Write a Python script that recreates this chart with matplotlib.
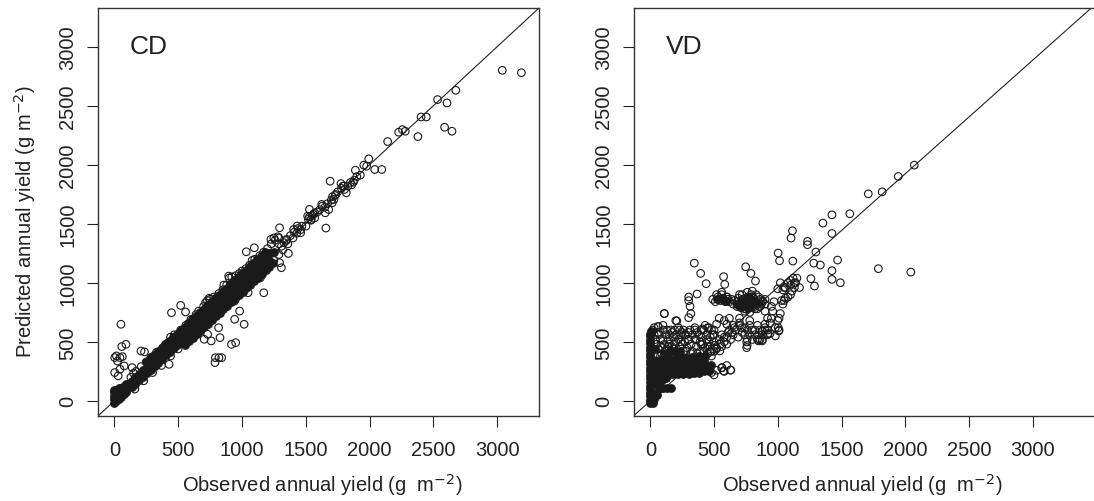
import matplotlib
matplotlib.use("Agg")
import matplotlib.pyplot as plt

plt.rcParams['font.family'] = ['Liberation Sans', 'DejaVu Sans']

# ---- CD panel: observed vs predicted (g m-2) ----
# dense black band, drawn as filled circles
cd_core_obs = [-5, -5, -5, -5, -5, 15, 15, 15, 15, 35, 35, 35, 35, 55, 55, 55, 75, 75, 75, 95, 95, 95,
               105, 135, 135, 165, 165, 195, 195, 225, 225, 255, 255, 285, 285, 315, 315, 345, 345, 375,
               375, 405, 405, 435, 435, 465, 465, 495, 495, 525, 525, 555, 555, 585, 585, 615, 615, 645,
               645, 675, 675, 705, 705, 735, 735, 765, 765, 795, 795, 825, 825, 855, 855, 885, 885, 915,
               915, 945, 945, 975, 975, 1005, 1005, 1035, 1035, 1065, 1065, 1095, 1095, 1125, 1125, 1155,
               1155, 1185, 1185, 1215, 1215, 1250,
               250, 280, 310, 340, 370, 400, 430, 460, 490, 520, 550, 580, 610, 640, 670, 700, 730, 760,
               790, 820, 850, 880, 910, 940, 970, 1000, 1030, 1060, 1090, 1120, 1150, 1180,
               555, 585, 615, 645, 675, 705, 735, 765, 795, 825, 855, 885, 915, 945, 975, 1005, 1035, 1065,
               1095, 1125, 1155, 1185, 1215, 1245]
cd_core_pred = [-15, 15, 45, 75, 95, -5, 30, 60, 90, 15, 50, 85, 110, 35, 70, 105, 55, 90, 125, 75, 110, 140,
                140, 115, 170, 145, 200, 175, 230, 205, 260, 235, 290, 265, 320, 295, 350, 325, 380, 355,
                410, 385, 440, 415, 470, 445, 500, 475, 530, 505, 560, 535, 590, 565, 620, 595, 650, 625,
                680, 655, 710, 685, 740, 715, 770, 745, 800, 775, 830, 805, 860, 835, 890, 865, 920, 895,
                950, 925, 980, 955, 1010, 985, 1040, 1015, 1070, 1045, 1100, 1075, 1130, 1105, 1160, 1135,
                1190, 1165, 1220, 1195, 1250, 1265,
                330, 360, 390, 420, 450, 480, 510, 540, 570, 600, 630, 660, 690, 720, 750, 780, 810, 840,
                870, 900, 930, 960, 990, 1020, 1050, 1080, 1110, 1140, 1170, 1200, 1230, 1260,
                475, 505, 535, 565, 595, 625, 655, 685, 715, 745, 775, 805, 835, 865, 895, 925, 955, 985,
                1015, 1045, 1075, 1105, 1135, 1165]

# open circles: band fringe, upper tail and outliers
cd_obs = [130, 170, 210, 250, 290, 330, 380, 420, 440, 470, 520, 560, 600, 640, 660, 700, 730, 750, 780,
          820, 850, 880, 900, 920, 950, 980, 1000, 1030, 1060, 1080, 1100, 1140, 1170, 1200, 1230, 1260,
          1290, 1250, 1280,
          160, 230, 300, 370, 440, 500, 560, 620, 680, 740, 790, 850, 900, 960, 1010, 1060, 1110, 1160,
          1200, 1250, 1290, 1320, 1080, 980, 870, 760,
          1290, 1310, 1330, 1350, 1360, 1380, 1400, 1410, 1430, 1440, 1460, 1470, 1520, 1530, 1540, 1550,
          1560, 1570, 1590, 1610, 1630, 1650, 1670, 1700, 1710, 1730, 1750, 1780, 1800, 1830, 1850, 1860,
          1880, 1900,
          3040, 3190, 2676, 2533, 2607, 2404, 2445, 2588, 2646, 2379, 2228, 2258, 2280, 2142, 1994, 1955,
          1977, 1889, 1928, 2041, 2096, 1691, 1776, 1790, 1818, 1804, 1873, 1735, 1721, 1708, 1625, 1653,
          1680, 1658, 1515, 1529, 1543, 1570, 1502, 1433, 1405, 1460, 1295, 1350, 1227, 1097, 1034, 1364,
          1295, 1309, 1171, 1144, 1048, 896, 858, 943, 982, 943, 1017, 715, 743, 520, 558, 448, 817, 828,
          759, 918, 951, 792, 820, 841, 789, 731, 704, 52, 58, 91, 16, 44, 63, 25, 3, 77, 209, 236, 429,
          3, 44, 30, 140, 151]
cd_pred = [200, 250, 290, 330, 370, 410, 450, 490, 540, 560, 600, 640, 690, 730, 760, 800, 850, 860, 880,
           910, 940, 980, 1040, 1050, 1060, 1080, 1100, 1120, 1150, 1190, 1200, 1230, 1260, 1290, 1330,
           1360, 1380, 1380, 1390,
           100, 170, 240, 300, 380, 440, 490, 560, 610, 680, 730, 780, 840, 890, 940, 990, 1040, 1090,
           1130, 1190, 1240, 1280, 1020, 900, 800, 700,
           1330, 1310, 1340, 1360, 1330, 1400, 1380, 1430, 1420, 1460, 1450, 1480, 1540, 1560, 1530, 1570,
           1580, 1550, 1600, 1620, 1650, 1640, 1670, 1700, 1730, 1740, 1770, 1800, 1820, 1820, 1850, 1830,
           1870, 1900,
           2800, 2780, 2631, 2552, 2524, 2405, 2405, 2318, 2284, 2239, 2276, 2298, 2284, 2197, 2050, 1997,
           1988, 1954, 1912, 1960, 1960, 1861, 1841, 1819, 1763, 1791, 1853, 1748, 1706, 1678, 1664, 1593,
           1621, 1464, 1565, 1622, 1537, 1593, 1481, 1481, 1452, 1424, 1466, 1368, 1368, 1297, 1263, 1249,
           1170, 1128, 916, 1043, 916, 1057, 981, 846, 761, 691, 649, 832, 869, 809, 753, 747, 620, 536,
           508, 479, 493, 366, 366, 366, 324, 564, 522, 649, 460, 479, 381, 367, 375, 338, 367, 296, 423,
           415, 310, 240, 268, 212, 282, 234]

# ---- VD panel ----
vd_core_obs = [0, 0, 0, 0, 0, 0, 0, 0, 0, 0, 0, 0, 0, 0, 0, 0, 0, 0, 0, 0, 0, 5, 10, 10, 10,
               20, 30, 50, 40, 70, 100, 130, 160, 60, 30, 20,
               60, 100, 140, 180, 220, 260, 300, 340, 380, 420, 460,
               50, 90, 130, 170, 210, 250, 290, 330, 370, 410, 450, 480,
               60, 100, 140, 180, 220, 260, 300, 340, 380, 420,
               80, 120, 160, 200, 240, 280, 330, 380, 430,
               110, 150, 190, 230, 40, 40, 40,
               60, 90, 120, 60,
               720, 750, 780, 760, 740, 700, 800, 680, 730, 770, 790, 820, 840, 760, 710,
               520, 560, 590]
vd_core_pred = [-20, 10, 40, 70, 100, 130, 160, 190, 220, 250, 280, 310, 340, 370, 400, 430, 460, 490,
                520, 550, 570, 590, 150, 300, 450,
                -20, 20, 50, 40, 100, 105, 105, 105, 130, 60, 30,
                220, 215, 220, 225, 230, 225, 230, 235, 240, 250, 250,
                260, 265, 260, 265, 270, 270, 275, 280, 280, 285, 290, 300,
                305, 305, 310, 310, 315, 320, 320, 325, 330, 340,
                350, 355, 350, 360, 355, 360, 370, 380, 380,
                400, 410, 420, 410, 200, 340, 440,
                170, 180, 190, 200,
                820, 830, 810, 850, 800, 840, 840, 820, 850, 790, 860, 830, 820, 880, 800,
                860, 870, 850]

vd_obs = [2071, 1945, 1819, 1710, 1565, 1425, 1354, 1425, 1115, 1104, 1233, 1233, 1299, 1118, 1469, 1282,
          1334, 1003, 1014, 1789, 2044, 1425, 1425, 1491, 1260, 1288, 345, 395, 438, 367, 301, 301, 312,
          318, 301, 110, 208, 63, 575, 584, 748, 789, 825, 1003, 1008, 981, 756, 756, 849, 877, 923, 630,
          562, 575,
          650, 680, 700, 720, 740, 760, 780, 800, 820, 840, 860, 880, 690, 710, 730, 750, 770, 790, 810,
          830, 850, 870, 700, 740, 780, 820, 860, 760, 720, 800, 660, 900,
          490, 510, 530, 550, 570, 590, 610, 520, 560, 600,
          400, 450, 500, 520, 540, 580, 600, 620, 650, 700, 740, 780, 800, 850, 880, 900, 950, 1000, 1050,
          1100, 1130, 1150, 1170, 1080, 1050, 1020, 1040, 1060, 1080, 1100, 1120, 1140, 1060, 1040, 1030,
          1100, 1110, 1130, 1020, 1010, 1000, 980, 1010,
          60, 100, 110, 150, 160, 200, 220, 250, 280, 310, 350, 380, 410, 430, 460, 480, 300, 250, 200,
          150, 100, 80, 120, 180, 400, 440, 470,
          480, 520, 560, 580, 600, 630, 500, 545,
          500, 520, 550, 580, 600, 560, 620, 640, 660, 700, 720, 760, 760, 780, 820, 840, 860, 880, 900,
          920, 940, 900, 920, 950, 960, 970]
vd_pred = [1997, 1901, 1771, 1754, 1585, 1576, 1506, 1418, 1441, 1379, 1351, 1323, 1261, 1184, 1193, 1167,
           1151, 1252, 1187, 1120, 1091, 1103, 1029, 1001, 1035, 973, 1167, 1080, 993, 905, 880, 849, 801,
           739, 705, 739, 677, 629, 1052, 987, 1136, 1080, 1015, 620, 592, 550, 499, 451, 508, 508, 570,
           262, 282, 254,
           820, 840, 800, 830, 810, 850, 820, 800, 840, 830, 860, 850, 870, 790, 860, 780, 880, 900, 870,
           900, 880, 820, 900, 760, 750, 780, 800, 920, 900, 930, 850, 860,
           860, 840, 880, 850, 870, 840, 860, 900, 920, 880,
           600, 620, 560, 650, 700, 680, 650, 700, 640, 700, 620, 640, 600, 560, 590, 620, 700, 950, 960,
           980, 1000, 1040, 960, 880, 850, 1000, 940, 960, 1000, 1020, 1040, 1000, 870, 820, 850,
           900, 930, 960, 740, 700, 680, 620, 600,
           630, 600, 740, 560, 600, 680, 620, 580, 560, 600, 620, 560, 610, 640, 620, 600, 520, 480, 500,
           480, 520, 460, 420, 440, 480, 520, 460,
           240, 260, 280, 250, 300, 260, 220, 423,
           420, 450, 480, 500, 540, 560, 600, 580, 620, 640, 580, 520, 470, 560, 600, 520, 520, 560, 600,
           560, 570, 760, 700, 800, 760, 840]

# grey haze of overlapping circles above the low VD cluster and along the mid band
vd_haze_obs = [20, 30, 40, 50, 60, 70, 80, 90, 110, 120, 130, 140, 150, 170, 180, 190, 210, 220, 230, 240,
               260, 270, 290, 300, 320, 330, 350, 360, 370, 390, 400, 420, 430, 440, 460, 470, 490, 500,
               350, 260,
               480, 500, 520, 540, 560, 580, 600, 610, 630, 650, 670, 690, 700, 720, 740, 760, 780, 800,
               820, 840, 860, 880, 900, 920, 940,
               680, 700, 720, 740, 760, 780, 800, 820, 840, 860, 880, 900, 640, 620, 600, 560, 540, 580,
               30, 60, 100, 130, 170, 200, 230, 270, 300, 330, 360, 390, 410, 450, 470, 500, 240, 190,
               140, 90, 50, 80, 160, 280, 320, 370, 420, 450, 480]
vd_haze_pred = [600, 560, 520, 480, 440, 560, 520, 400, 480, 560, 440, 520, 400, 460, 540, 600, 420, 520,
                460, 560, 420, 500, 450, 580, 480, 420, 520, 460, 580, 420, 540, 600, 450, 560, 500, 420,
                560, 470, 600, 600,
                420, 500, 440, 520, 460, 540, 480, 580, 520, 560, 600, 540, 660, 620, 560, 600, 680, 520,
                560, 640, 600, 520, 650, 600, 660,
                800, 820, 860, 780, 800, 840, 880, 800, 780, 800, 840, 820, 860, 840, 880, 900, 860, 850,
                620, 580, 640, 600, 580, 560, 600, 560, 520, 560, 520, 500, 480, 460, 540, 600, 500, 480,
                460, 450, 400, 380, 420, 420, 400, 400, 420, 400, 380]

lims = (-128, 3328)
ticks = [0, 500, 1000, 1500, 2000, 2500, 3000]
ink = '#1a1a1a'

fig = plt.figure(figsize=(10.94, 5.02), dpi=100)
ax1 = fig.add_axes([98 / 1094, 85 / 502, 441 / 1094, 408 / 502])
ax2 = fig.add_axes([634 / 1094, 85 / 502, 466 / 1094, 408 / 502])

panels = [(ax1, 'CD', cd_core_obs, cd_core_pred, cd_obs, cd_pred, [], [], lims[1], 1.0),
          (ax2, 'VD', vd_core_obs, vd_core_pred, vd_obs, vd_pred, vd_haze_obs, vd_haze_pred, 3528, 0.962)]

for ax, name, c_obs, c_pred, o_obs, o_pred, h_obs, h_pred, xmax, slope in panels:
    ax.scatter(c_obs, c_pred, s=30, facecolors=ink, edgecolors=ink, linewidths=0.8, zorder=3)
    ax.scatter(o_obs, o_pred, s=30, facecolors='none', edgecolors=ink, linewidths=0.8, zorder=3)
    if h_obs:
        ax.scatter(h_obs, h_pred, s=30, facecolors='none', edgecolors=ink, linewidths=0.8, zorder=3)
    ax.axline((0, 0), slope=slope, color='#222222', lw=0.8, zorder=2)
    ax.set_xlim(lims[0], xmax)
    ax.set_ylim(*lims)
    ax.set_xticks(ticks)
    ax.set_yticks(ticks)
    ax.tick_params(direction='out', length=8, width=0.8, labelsize=14.5, colors='#222222')
    ax.tick_params(axis='x', pad=9)
    ax.tick_params(axis='y', labelrotation=90, pad=7)
    for lab in ax.get_yticklabels():
        lab.set_va('center')
    for sp in ax.spines.values():
        sp.set_linewidth(1.0)
        sp.set_color('#333333')
    ax.text(120, 3010, name, fontsize=19, ha='left', va='center', color='#222222')

fig.text(322 / 1094, 1 - 485 / 502, 'Observed annual yield (g  m$^{-2}$)', ha='center', va='center',
         fontsize=14.5, color='#222222')
fig.text(862 / 1094, 1 - 485 / 502, 'Observed annual yield (g  m$^{-2}$)', ha='center', va='center',
         fontsize=14.5, color='#222222')
fig.text(25 / 1094, 1 - 222 / 502, 'Predicted annual yield (g m$^{-2}$)', ha='center', va='center',
         rotation=90, fontsize=14.5, color='#222222')

plt.savefig('out.png', dpi=100)
